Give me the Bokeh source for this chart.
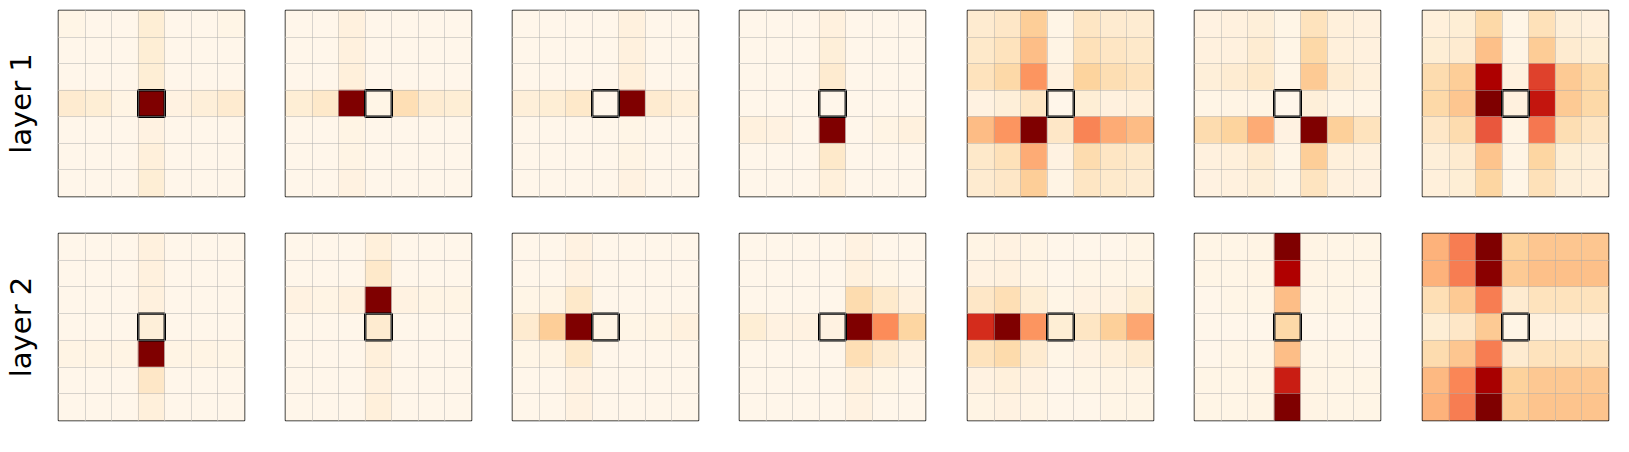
import numpy as np
from bokeh.plotting import figure
from bokeh.layouts import gridplot
from bokeh.models import (ColumnDataSource, LinearColorMapper, Grid, FixedTicker,
                          LinearAxis, Range1d)
from bokeh.palettes import OrRd9
from bokeh.transform import transform
from bokeh.embed import file_html
from bokeh.resources import INLINE

# ---------------- data ----------------
row_labels = ["layer 1", "layer 2"]
highlight_cell = (3, 3)  # (row, col) of the query position

# layer 1 attention maps (row 0 = top)
L1_M1 = [[0.02, 0.01, 0.01, 0.08, 0.01, 0.01, 0.02],
         [0.01, 0.01, 0.01, 0.08, 0.01, 0.01, 0.01],
         [0.01, 0.01, 0.01, 0.08, 0.01, 0.01, 0.01],
         [0.10, 0.08, 0.03, 1.00, 0.04, 0.07, 0.10],
         [0.01, 0.01, 0.01, 0.04, 0.01, 0.01, 0.01],
         [0.01, 0.01, 0.01, 0.06, 0.01, 0.01, 0.01],
         [0.01, 0.01, 0.01, 0.08, 0.01, 0.01, 0.01]]
L1_M2 = [[0.01, 0.01, 0.05, 0.01, 0.01, 0.01, 0.01],
         [0.01, 0.01, 0.05, 0.01, 0.01, 0.01, 0.01],
         [0.01, 0.01, 0.06, 0.01, 0.01, 0.01, 0.01],
         [0.08, 0.12, 1.00, 0.02, 0.18, 0.09, 0.08],
         [0.01, 0.01, 0.03, 0.01, 0.01, 0.01, 0.01],
         [0.01, 0.01, 0.03, 0.01, 0.01, 0.01, 0.01],
         [0.01, 0.01, 0.04, 0.01, 0.01, 0.01, 0.01]]
L1_M3 = [[0.01, 0.01, 0.01, 0.01, 0.05, 0.01, 0.01],
         [0.01, 0.01, 0.01, 0.01, 0.05, 0.01, 0.01],
         [0.01, 0.01, 0.01, 0.01, 0.06, 0.01, 0.01],
         [0.07, 0.08, 0.12, 0.01, 1.00, 0.10, 0.06],
         [0.01, 0.01, 0.01, 0.01, 0.02, 0.01, 0.01],
         [0.01, 0.01, 0.01, 0.01, 0.03, 0.01, 0.01],
         [0.01, 0.01, 0.01, 0.01, 0.04, 0.01, 0.01]]
L1_M4 = [[0.01, 0.01, 0.01, 0.05, 0.01, 0.01, 0.01],
         [0.01, 0.01, 0.01, 0.07, 0.01, 0.01, 0.01],
         [0.01, 0.01, 0.01, 0.10, 0.01, 0.01, 0.01],
         [0.01, 0.01, 0.01, 0.01, 0.01, 0.01, 0.01],
         [0.05, 0.04, 0.01, 1.00, 0.01, 0.03, 0.05],
         [0.01, 0.01, 0.01, 0.12, 0.01, 0.01, 0.01],
         [0.01, 0.01, 0.01, 0.06, 0.01, 0.01, 0.01]]
L1_M5 = [[0.10, 0.13, 0.28, 0.02, 0.14, 0.10, 0.09],
         [0.12, 0.16, 0.36, 0.03, 0.17, 0.14, 0.12],
         [0.16, 0.22, 0.48, 0.05, 0.25, 0.19, 0.16],
         [0.04, 0.07, 0.14, 0.01, 0.08, 0.05, 0.06],
         [0.37, 0.48, 1.00, 0.13, 0.53, 0.42, 0.37],
         [0.12, 0.17, 0.42, 0.04, 0.20, 0.14, 0.12],
         [0.10, 0.13, 0.28, 0.03, 0.14, 0.11, 0.09]]
L1_M6 = [[0.04, 0.05, 0.07, 0.02, 0.16, 0.06, 0.05],
         [0.05, 0.05, 0.09, 0.02, 0.22, 0.06, 0.05],
         [0.07, 0.09, 0.12, 0.02, 0.30, 0.09, 0.06],
         [0.02, 0.03, 0.03, 0.01, 0.07, 0.03, 0.03],
         [0.20, 0.25, 0.42, 0.04, 1.00, 0.27, 0.16],
         [0.05, 0.06, 0.10, 0.02, 0.28, 0.06, 0.05],
         [0.04, 0.05, 0.07, 0.02, 0.15, 0.05, 0.04]]
L1_M7 = [[0.06, 0.08, 0.22, 0.02, 0.17, 0.07, 0.05],
         [0.08, 0.10, 0.35, 0.03, 0.29, 0.10, 0.08],
         [0.20, 0.28, 0.89, 0.05, 0.71, 0.30, 0.22],
         [0.22, 0.32, 1.00, 0.05, 0.82, 0.30, 0.22],
         [0.13, 0.20, 0.66, 0.03, 0.57, 0.19, 0.14],
         [0.07, 0.10, 0.33, 0.03, 0.24, 0.08, 0.07],
         [0.06, 0.08, 0.24, 0.02, 0.17, 0.07, 0.06]]

# layer 2 attention maps
L2_M1 = [[0.01, 0.01, 0.01, 0.05, 0.01, 0.01, 0.01],
         [0.01, 0.01, 0.01, 0.05, 0.01, 0.01, 0.01],
         [0.01, 0.01, 0.01, 0.05, 0.01, 0.01, 0.01],
         [0.01, 0.01, 0.01, 0.07, 0.01, 0.01, 0.01],
         [0.03, 0.03, 0.03, 1.00, 0.03, 0.03, 0.02],
         [0.01, 0.01, 0.01, 0.13, 0.01, 0.01, 0.01],
         [0.01, 0.01, 0.01, 0.06, 0.01, 0.01, 0.01]]
L2_M2 = [[0.01, 0.01, 0.01, 0.06, 0.01, 0.01, 0.01],
         [0.01, 0.01, 0.01, 0.12, 0.01, 0.01, 0.01],
         [0.04, 0.03, 0.05, 1.00, 0.04, 0.03, 0.03],
         [0.01, 0.01, 0.01, 0.10, 0.01, 0.01, 0.01],
         [0.01, 0.01, 0.01, 0.06, 0.01, 0.01, 0.01],
         [0.01, 0.01, 0.01, 0.05, 0.01, 0.01, 0.01],
         [0.01, 0.01, 0.01, 0.06, 0.01, 0.01, 0.01]]
L2_M3 = [[0.01, 0.01, 0.04, 0.01, 0.01, 0.01, 0.01],
         [0.01, 0.01, 0.04, 0.01, 0.01, 0.01, 0.01],
         [0.02, 0.03, 0.12, 0.01, 0.01, 0.01, 0.01],
         [0.10, 0.28, 1.00, 0.03, 0.02, 0.03, 0.05],
         [0.02, 0.03, 0.12, 0.01, 0.01, 0.01, 0.01],
         [0.01, 0.01, 0.04, 0.01, 0.01, 0.01, 0.01],
         [0.01, 0.01, 0.04, 0.01, 0.01, 0.01, 0.01]]
L2_M4 = [[0.01, 0.01, 0.01, 0.01, 0.04, 0.01, 0.01],
         [0.01, 0.01, 0.01, 0.01, 0.05, 0.02, 0.01],
         [0.01, 0.01, 0.01, 0.01, 0.20, 0.11, 0.05],
         [0.08, 0.04, 0.04, 0.04, 1.00, 0.50, 0.24],
         [0.01, 0.01, 0.01, 0.01, 0.18, 0.10, 0.05],
         [0.01, 0.01, 0.01, 0.01, 0.05, 0.02, 0.01],
         [0.01, 0.01, 0.01, 0.01, 0.04, 0.01, 0.01]]
L2_M5 = [[0.03, 0.04, 0.03, 0.01, 0.01, 0.01, 0.02],
         [0.04, 0.05, 0.03, 0.01, 0.02, 0.02, 0.02],
         [0.13, 0.18, 0.08, 0.02, 0.04, 0.04, 0.08],
         [0.76, 1.00, 0.48, 0.08, 0.14, 0.27, 0.43],
         [0.16, 0.21, 0.10, 0.02, 0.04, 0.06, 0.09],
         [0.04, 0.06, 0.04, 0.01, 0.02, 0.03, 0.03],
         [0.03, 0.04, 0.03, 0.01, 0.01, 0.02, 0.02]]
L2_M6 = [[0.02, 0.02, 0.03, 1.00, 0.03, 0.02, 0.02],
         [0.02, 0.02, 0.03, 0.88, 0.03, 0.02, 0.02],
         [0.01, 0.02, 0.02, 0.36, 0.02, 0.02, 0.01],
         [0.01, 0.01, 0.01, 0.22, 0.01, 0.01, 0.01],
         [0.01, 0.02, 0.02, 0.36, 0.02, 0.02, 0.01],
         [0.02, 0.02, 0.03, 0.80, 0.03, 0.02, 0.02],
         [0.02, 0.02, 0.03, 1.00, 0.03, 0.02, 0.02]]
L2_M7 = [[0.40, 0.55, 1.00, 0.26, 0.32, 0.32, 0.32],
         [0.40, 0.55, 0.97, 0.30, 0.35, 0.35, 0.35],
         [0.18, 0.30, 0.55, 0.10, 0.16, 0.16, 0.16],
         [0.08, 0.13, 0.30, 0.02, 0.05, 0.05, 0.05],
         [0.20, 0.32, 0.55, 0.10, 0.16, 0.16, 0.16],
         [0.38, 0.52, 0.90, 0.26, 0.31, 0.31, 0.31],
         [0.40, 0.55, 1.00, 0.28, 0.33, 0.33, 0.33]]

layer_maps = [[L1_M1, L1_M2, L1_M3, L1_M4, L1_M5, L1_M6, L1_M7],
              [L2_M1, L2_M2, L2_M3, L2_M4, L2_M5, L2_M6, L2_M7]]


# ---------------- colour map (OrRd, light -> dark) ----------------
def make_palette(base, n=256):
    base = list(reversed(base))
    rgb = np.array([[int(c[i:i + 2], 16) for i in (1, 3, 5)] for c in base], float)
    pos = np.linspace(0, 1, len(base))
    out = []
    for t in np.linspace(0, 1, n):
        r, g, b = (np.interp(t, pos, rgb[:, k]) for k in range(3))
        out.append("#%02x%02x%02x" % (int(round(r)), int(round(g)), int(round(b))))
    return out


mapper = LinearColorMapper(palette=make_palette(OrRd9), low=0.0, high=1.0)

# ---------------- layout ----------------
FRAME_W = 186
frame_heights = [186, 187]
left_borders = [56, 20, 20, 20, 20, 20, 20]
right_borders = [21, 21, 21, 22, 21, 22, 3]
top_borders = [10, 19]
bottom_borders = [18, 6]

rows = []
for r, maps in enumerate(layer_maps):
    row_figs = []
    for c, mat in enumerate(maps):
        m = np.array(mat, dtype=float)
        n_r, n_c = m.shape
        rr, cc = np.indices(m.shape)
        src = ColumnDataSource(dict(x=cc.ravel() + 0.5, y=rr.ravel() + 0.5, v=m.ravel()))
        p = figure(frame_width=FRAME_W, frame_height=frame_heights[r],
                   x_range=Range1d(0, n_c), y_range=Range1d(n_r, 0),
                   x_axis_location=None, y_axis_location=None,
                   toolbar_location=None, output_backend="svg", title=None,
                   min_border_left=left_borders[c], min_border_right=right_borders[c],
                   min_border_top=top_borders[r], min_border_bottom=bottom_borders[r])
        p.background_fill_color = "white"
        p.border_fill_color = "white"
        p.outline_line_color = "#111111"
        p.outline_line_width = 1.5
        p.rect("x", "y", 1, 1, source=src,
               fill_color=transform("v", mapper),
               line_color=transform("v", mapper), line_width=0.6)
        for d in (0, 1):
            g = Grid(dimension=d, ticker=FixedTicker(ticks=list(range(1, n_c))),
                     grid_line_color="#a8a8a8", grid_line_alpha=0.45,
                     grid_line_width=1, level="annotation")
            p.add_layout(g)
        hr, hc = highlight_cell
        p.rect(x=[hc + 0.5], y=[hr + 0.5], width=1, height=1,
               fill_color=None, line_color="black", line_width=2.4)
        if c == 0:
            ax = LinearAxis(ticker=FixedTicker(ticks=[]), axis_label=row_labels[r],
                            axis_label_text_font="DejaVu Sans",
                            axis_label_text_font_size="29px",
                            axis_label_text_font_style="normal",
                            axis_label_text_color="black",
                            axis_line_color=None, major_tick_line_color=None,
                            minor_tick_line_color=None, major_tick_out=0,
                            major_tick_in=0, major_label_standoff=0,
                            axis_label_standoff=21)
            p.add_layout(ax, "left")
        row_figs.append(p)
    rows.append(row_figs)

grid = gridplot(rows, toolbar_location=None)

open("out.html", "w").write(file_html(grid, INLINE))
